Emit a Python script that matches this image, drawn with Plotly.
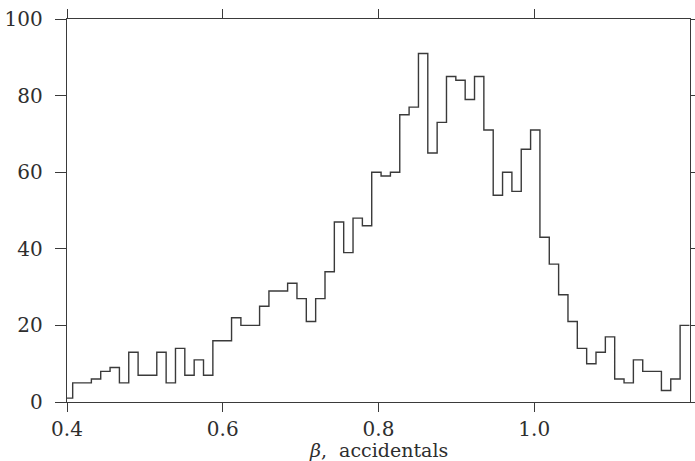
import numpy as np
import plotly.graph_objects as go

# Histogram of beta for accidentals
bin_start = 0.3953
bin_width = 0.012
counts = [1, 5, 5, 6, 8, 9, 5, 13, 7, 7,
          13, 5, 14, 7, 11, 7, 16, 16, 22, 20,
          20, 25, 29, 29, 31, 27, 21, 27, 34, 47,
          39, 48, 46, 60, 59, 60, 75, 77, 91, 65,
          73, 85, 84, 79, 85, 71, 54, 60, 55, 66,
          71, 43, 36, 28, 21, 14, 10, 13, 17, 6,
          5, 11, 8, 8, 3, 6, 20]

x_tick_vals = [0.4, 0.6, 0.8, 1.0]
x_tick_text = ["0.4", "0.6", "0.8", "1.0"]
y_tick_vals = [0, 20, 40, 60, 80, 100]
y_tick_text = ["0", "20", "40", "60", "80", "100"]
x_title = "<i>β</i>,  accidentals"

edges = bin_start + bin_width * np.arange(len(counts) + 1)
yvals = counts + [counts[-1]]

ink = "#3a3a3a"
font = dict(family="DejaVu Serif", size=20, color="#2e2e2e")
title_font = dict(family="DejaVu Serif", size=19, color="#2e2e2e")

fig = go.Figure()
fig.add_trace(go.Scatter(
    x=edges, y=yvals, mode="lines", line_shape="hv",
    line=dict(color=ink, width=1.4), showlegend=False, hoverinfo="skip",
))

fig.update_layout(
    width=695, height=461,
    margin=dict(l=67, r=5, t=19, b=59),
    paper_bgcolor="white", plot_bgcolor="white",
    font=font,
)
fig.update_xaxes(
    range=[0.4, 1.2], tickvals=x_tick_vals, ticktext=x_tick_text,
    showline=True, linecolor=ink, linewidth=1.4, mirror="ticks",
    ticks="outside", ticklen=9, tickwidth=1.4, tickcolor=ink,
    showgrid=False, zeroline=False, tickfont=font, ticklabelstandoff=0,
    automargin=False,
)
fig.update_yaxes(
    range=[0, 100], tickvals=y_tick_vals, ticktext=y_tick_text,
    showline=True, linecolor=ink, linewidth=1.4, mirror="ticks",
    ticks="outside", ticklen=11, tickwidth=1.4, tickcolor=ink,
    showgrid=False, zeroline=False, tickfont=font, ticklabelstandoff=8,
    automargin=False,
)
fig.add_annotation(
    text=x_title, xref="paper", yref="paper", x=0.5, y=0,
    xanchor="center", yanchor="top", yshift=-35, showarrow=False,
    font=title_font,
)

fig.write_html("out.html")
